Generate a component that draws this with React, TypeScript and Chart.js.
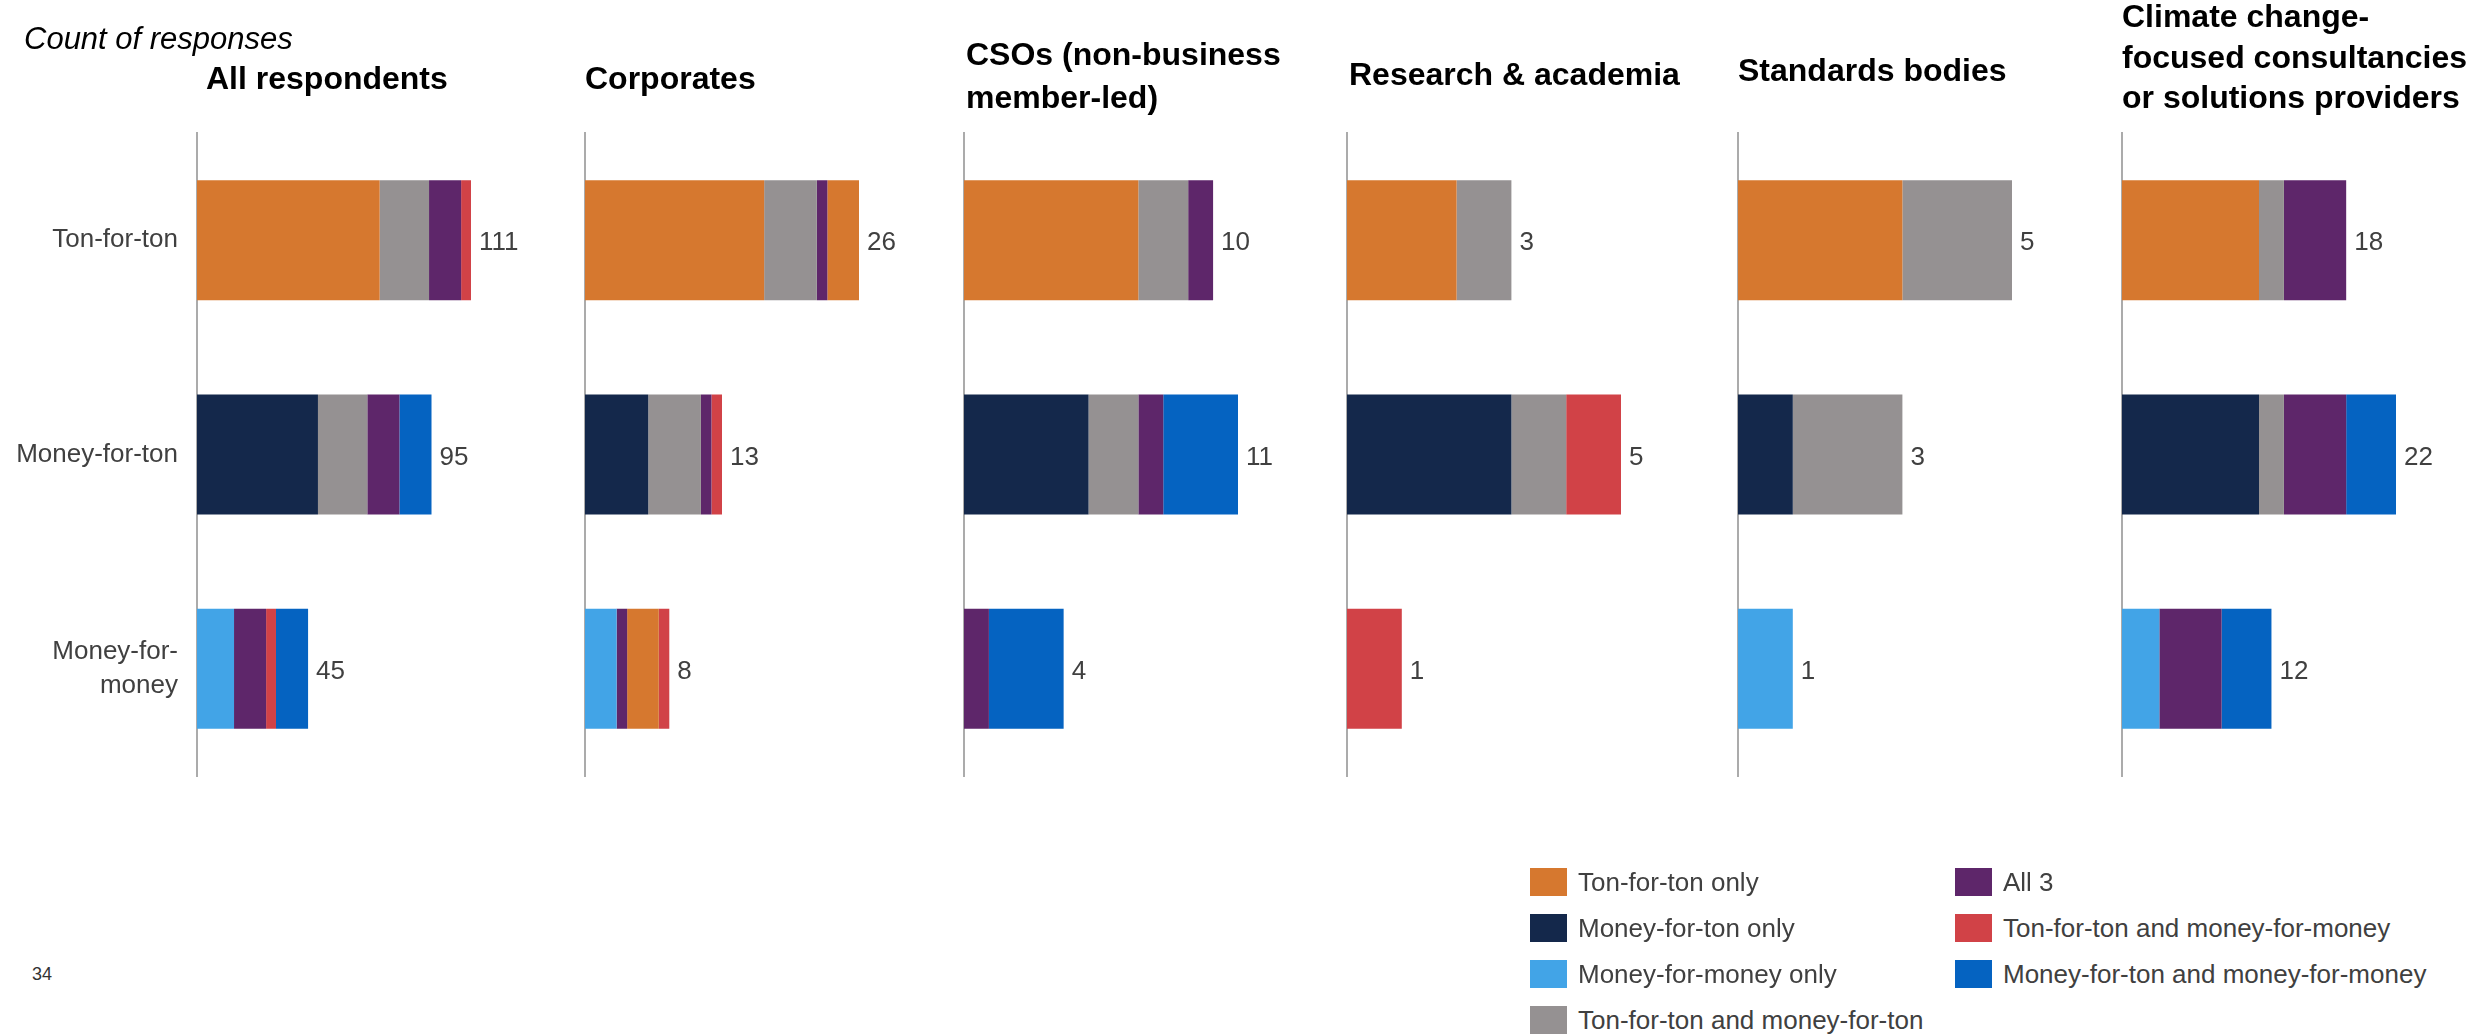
import React, { useEffect, useRef } from 'react';
import { Chart, registerables } from 'chart.js';

Chart.register(...registerables);

// ---------- DATA ----------
const categories: string[][] = [['Ton-for-ton'], ['Money-for-ton'], ['Money-for-', 'money']];

const panelTitles: string[][] = [
  ['All respondents'],
  ['Corporates'],
  ['CSOs (non-business', 'member-led)'],
  ['Research & academia'],
  ['Standards bodies'],
  ['Climate change-', 'focused consultancies', 'or solutions providers'],
];

// each inner array: [Ton-for-ton row, Money-for-ton row, Money-for-money row], one per panel
const tonForTonOnly = [[74, 0, 0], [17, 0, 0], [7, 0, 0], [2, 0, 0], [3, 0, 0], [11, 0, 0]];
const moneyForTonOnly = [[0, 49, 0], [0, 6, 0], [0, 5, 0], [0, 3, 0], [0, 1, 0], [0, 11, 0]];
const moneyForMoneyOnly = [[0, 0, 15], [0, 0, 3], [0, 0, 0], [0, 0, 0], [0, 0, 1], [0, 0, 3]];
const tonAndMoneyForTon = [[20, 20, 0], [5, 5, 0], [2, 2, 0], [1, 1, 0], [2, 2, 0], [2, 2, 0]];
const allThree = [[13, 13, 13], [1, 1, 1], [1, 1, 1], [0, 0, 0], [0, 0, 0], [5, 5, 5]];
const unlabelledOrange = [[0, 0, 0], [3, 0, 3], [0, 0, 0], [0, 0, 0], [0, 0, 0], [0, 0, 0]];
const tonAndMoneyForMoney = [[4, 0, 4], [0, 1, 1], [0, 0, 0], [0, 1, 1], [0, 0, 0], [0, 0, 0]];
const moneyForTonAndMoney = [[0, 13, 13], [0, 0, 0], [0, 3, 3], [0, 0, 0], [0, 0, 0], [0, 4, 4]];

const series = [
  { label: 'Ton-for-ton only', color: '#D6782F', data: tonForTonOnly },
  { label: 'Money-for-ton only', color: '#14284B', data: moneyForTonOnly },
  { label: 'Money-for-money only', color: '#42A4E7', data: moneyForMoneyOnly },
  { label: 'Ton-for-ton and money-for-ton', color: '#959192', data: tonAndMoneyForTon },
  { label: 'All 3', color: '#5E266A', data: allThree },
  { label: '(unlabelled)', color: '#D6782F', data: unlabelledOrange },
  { label: 'Ton-for-ton and money-for-money', color: '#D14247', data: tonAndMoneyForMoney },
  { label: 'Money-for-ton and money-for-money', color: '#0563C1', data: moneyForTonAndMoney },
];

const legendCol1 = [0, 1, 2, 3];
const legendCol2 = [4, 6, 7];

// ---------- LAYOUT ----------
const FONT = "'Liberation Sans', Arial, Helvetica, sans-serif";
const axisX = [197, 585, 964, 1347, 1738, 2122];
const PLOT_W = 340;
const MAX_BAR_PX = 274;
const CANVAS_H = 900;
const AREA_TOP = 133;
const AREA_BOTTOM = 776;

const titleTops = [57, 57, 33, 53, 49, -4];
const titleLefts = [206, 585, 966, 1349, 1738, 2122];
const titleLineHeights = [42, 42, 43, 42, 42, 40.5];

function Panel({ index }: { index: number }) {
  const ref = useRef<HTMLCanvasElement | null>(null);
  const isFirst = index === 0;
  const yWidth = isFirst ? axisX[0] : 10;
  const left = axisX[index] - yWidth;
  const width = yWidth + PLOT_W;

  useEffect(() => {
    if (!ref.current) return;
    const totals = categories.map((_, r) => series.reduce((s, ser) => s + ser.data[index][r], 0));
    const maxTotal = Math.max(...totals);
    const xMax = (maxTotal * PLOT_W) / MAX_BAR_PX;

    const totalsPlugin = {
      id: 'totals' + index,
      afterDatasetsDraw(chart: any) {
        const { ctx } = chart;
        const xs = chart.scales.x;
        const ys = chart.scales.y;
        ctx.save();
        ctx.font = `26px ${FONT}`;
        ctx.fillStyle = '#404040';
        ctx.textBaseline = 'middle';
        ctx.textAlign = 'left';
        totals.forEach((t, i) => {
          const x = xs.getPixelForValue(t);
          const y = ys.getPixelForValue(i);
          ctx.fillText(String(t), x + 8, y + 3);
        });
        ctx.restore();
      },
    };

    const chart = new Chart(ref.current, {
      type: 'bar',
      data: {
        labels: categories,
        datasets: series.map((s) => ({
          label: s.label,
          data: s.data[index],
          backgroundColor: s.color,
          borderWidth: 0,
          barPercentage: 0.56,
          categoryPercentage: 1,
        })),
      },
      options: {
        indexAxis: 'y',
        responsive: false,
        animation: false,
        layout: { padding: { top: AREA_TOP, bottom: CANVAS_H - AREA_BOTTOM, left: 0, right: 0 } },
        plugins: {
          legend: { display: false },
          tooltip: { enabled: false },
          title: { display: false },
        },
        scales: {
          x: {
            stacked: true,
            display: false,
            min: 0,
            max: xMax,
          },
          y: {
            stacked: true,
            display: true,
            position: 'left',
            grid: { display: false, drawTicks: false, tickLength: 0 },
            border: { display: true, color: '#ABABAB', width: 2 },
            ticks: {
              display: isFirst,
              padding: 19,
              color: '#404040',
              font: { family: FONT, size: 26, lineHeight: 1.3 },
            },
            afterFit: (scale: any) => {
              scale.width = yWidth;
            },
          },
        },
      },
      plugins: [totalsPlugin],
    } as any);
    return () => chart.destroy();
  }, [index]);

  return (
    <canvas
      ref={ref}
      width={width}
      height={CANVAS_H}
      style={{ position: 'absolute', left, top: 0, width, height: CANVAS_H }}
    />
  );
}

export default function App() {
  const legendItem = (si: number, x: number, row: number) => (
    <div key={si} style={{ position: 'absolute', left: x, top: 868 + row * 46, height: 28, display: 'flex', alignItems: 'center' }}>
      <div style={{ width: 37, height: 28, background: series[si].color }} />
      <div style={{ marginLeft: 11, fontSize: 26, color: '#404040', whiteSpace: 'nowrap', lineHeight: '28px' }}>{series[si].label}</div>
    </div>
  );

  return (
    <div style={{ position: 'absolute', left: 0, top: 0, width: 2474, height: 1034, background: '#fff', overflow: 'hidden', fontFamily: FONT }}>
      {panelTitles.map((_, i) => (
        <Panel key={i} index={i} />
      ))}
      <div style={{ position: 'absolute', left: 24, top: 21, fontSize: 31, lineHeight: '36px', fontStyle: 'italic', color: '#000', whiteSpace: 'nowrap' }}>
        Count of responses
      </div>
      {panelTitles.map((lines, i) => (
        <div
          key={i}
          style={{
            position: 'absolute',
            left: titleLefts[i],
            top: titleTops[i],
            fontSize: 32,
            fontWeight: 'bold',
            lineHeight: titleLineHeights[i] + 'px',
            color: '#000',
            whiteSpace: 'nowrap',
          }}
        >
          {lines.map((l, j) => (
            <div key={j}>{l}</div>
          ))}
        </div>
      ))}
      {legendCol1.map((si, r) => legendItem(si, 1530, r))}
      {legendCol2.map((si, r) => legendItem(si, 1955, r))}
      <div style={{ position: 'absolute', left: 32, top: 964, fontSize: 18, lineHeight: '20px', color: '#333' }}>34</div>
    </div>
  );
}
